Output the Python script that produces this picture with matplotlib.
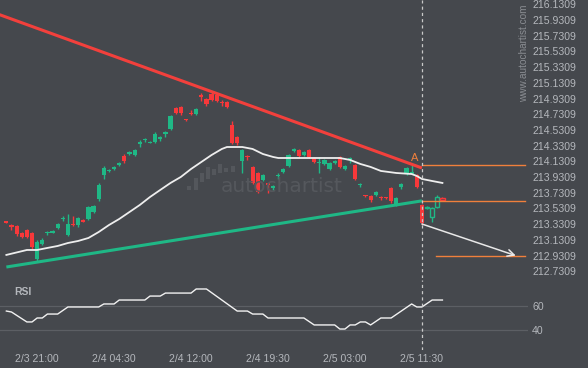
import matplotlib
matplotlib.use("Agg")
import matplotlib.pyplot as plt
from matplotlib.patches import Rectangle
import numpy as np

plt.rcParams['font.family'] = ['Liberation Sans', 'DejaVu Sans']

# ---------------- data ----------------
opens = [213.365, 213.320, 213.308, 213.218, 213.257, 213.218, 212.888, 213.078, 213.218, 213.218,
         213.282, 213.397, 213.193, 213.333, 213.320, 213.384, 213.397, 213.486, 213.652, 213.958,
         214.009, 214.034, 214.085, 214.200, 214.225, 214.212, 214.353, 214.404, 214.365, 214.378,
         214.416, 214.480, 214.544, 214.811, 214.824, 214.665, 214.748, 214.735, 214.977, 214.926,
         214.990, 214.977, 214.888, 214.888, 214.595, 214.442, 214.136, 214.200, 214.060, 213.983,
         213.894, 213.856, 213.792, 213.939, 213.996, 214.072, 214.263, 214.276, 214.212, 214.276,
         214.174, 214.104, 214.098, 214.034, 214.111, 214.187, 214.034, 214.149, 214.085, 213.830,
         213.697, 213.690, 213.703, 213.677, 213.671, 213.792, 213.588, 213.805, 213.970, 213.970,
         213.958, 213.575, 213.537, 213.422, 213.550, 213.665]
highs = [213.371, 213.333, 213.320, 213.231, 213.269, 213.231, 213.129, 213.155, 213.244, 213.257,
         213.346, 213.435, 213.461, 213.435, 213.422, 213.397, 213.563, 213.575, 213.856, 214.072,
         214.034, 214.072, 214.123, 214.225, 214.263, 214.289, 214.404, 214.429, 214.391, 214.506,
         214.455, 214.518, 214.722, 214.824, 214.837, 214.671, 214.786, 214.811, 215.002, 214.939,
         215.015, 214.990, 214.913, 214.900, 214.646, 214.455, 214.289, 214.212, 214.072, 213.996,
         213.970, 213.856, 213.830, 213.983, 214.047, 214.225, 214.302, 214.289, 214.263, 214.289,
         214.187, 214.187, 214.161, 214.123, 214.149, 214.200, 214.085, 214.187, 214.098, 213.856,
         213.703, 213.703, 213.754, 213.690, 213.677, 213.805, 213.677, 213.856, 214.060, 214.085,
         213.970, 213.588, 213.563, 213.550, 213.703, 213.677]
lows = [213.346, 213.257, 213.180, 213.155, 213.155, 213.015, 212.850, 213.066, 213.193, 213.218,
        213.269, 213.371, 213.180, 213.308, 213.295, 213.359, 213.384, 213.473, 213.626, 213.907,
        213.996, 214.021, 214.072, 214.111, 214.212, 214.200, 214.314, 214.378, 214.365, 214.365,
        214.391, 214.442, 214.531, 214.735, 214.722, 214.646, 214.722, 214.722, 214.900, 214.837,
        214.900, 214.888, 214.837, 214.811, 214.353, 214.340, 213.983, 214.149, 213.843, 213.728,
        213.881, 213.728, 213.767, 213.907, 213.983, 214.060, 214.251, 214.187, 214.200, 214.174,
        214.111, 213.983, 214.085, 214.021, 214.098, 214.047, 214.021, 214.111, 213.894, 213.805,
        213.677, 213.614, 213.690, 213.639, 213.652, 213.601, 213.563, 213.779, 213.958, 213.970,
        213.792, 213.333, 213.524, 213.359, 213.537, 213.626]
closes = [213.346, 213.295, 213.206, 213.167, 213.167, 213.040, 213.104, 213.129, 213.231, 213.244,
          213.333, 213.410, 213.333, 213.320, 213.410, 213.359, 213.550, 213.563, 213.830, 214.047,
          214.021, 214.060, 214.111, 214.136, 214.251, 214.276, 214.378, 214.416, 214.378, 214.480,
          214.442, 214.506, 214.709, 214.748, 214.748, 214.652, 214.735, 214.799, 214.951, 214.862,
          214.913, 214.900, 214.875, 214.824, 214.365, 214.365, 214.276, 214.187, 213.856, 213.741,
          213.958, 213.830, 213.818, 213.951, 214.034, 214.212, 214.289, 214.200, 214.251, 214.187,
          214.123, 214.117, 214.149, 214.111, 214.136, 214.060, 214.072, 214.174, 213.907, 213.843,
          213.684, 213.639, 213.741, 213.665, 213.658, 213.626, 213.665, 213.843, 214.047, 213.996,
          213.805, 213.346, 213.550, 213.537, 213.677, 213.639]

# moving average (white line), sampled at candle indices
ma_idx = [0, 4, 6, 8, 10, 12, 14, 16, 18, 20, 22, 24, 26, 28, 30, 32, 34, 36, 38, 40, 42, 43,
          46, 48, 50, 52, 53, 57, 61, 65, 67, 69, 71, 73, 76, 79, 80, 81, 83, 85]
ma_val = [212.939, 213.002, 213.002, 213.028, 213.053, 213.091, 213.117, 213.155, 213.231, 213.320,
          213.397, 213.486, 213.575, 213.677, 213.767, 213.856, 213.932, 214.034, 214.123, 214.212,
          214.289, 214.314, 214.314, 214.289, 214.225, 214.187, 214.174, 214.174, 214.174, 214.174,
          214.149, 214.098, 214.060, 214.009, 213.983, 213.970, 213.945, 213.907, 213.881, 213.856]

# RSI line
rsi_idx = [0, 1, 4, 5, 6, 7, 8, 10, 12, 18, 19, 21, 22, 27, 28, 30, 31, 36, 37, 39, 45, 47, 48,
           50, 51, 58, 60, 64, 65, 66, 67, 68, 69, 70, 71, 73, 75, 79, 80, 81, 83, 85]
rsi_val = [55.8, 55.0, 46.7, 46.7, 50.0, 50.0, 53.3, 53.3, 59.2, 59.2, 61.7, 61.7, 65.0, 65.0,
           68.3, 68.3, 70.8, 70.8, 74.2, 74.2, 55.8, 55.8, 53.3, 53.3, 50.0, 50.0, 44.2, 44.2,
           40.8, 40.8, 44.2, 44.2, 46.7, 46.7, 44.2, 50.0, 50.0, 61.7, 59.2, 59.2, 65.0, 65.0]

# pattern lines
resistance_idx = [-2, 81]
resistance_val = [216.016, 214.047]
support_idx = [0, 81]
support_val = [212.785, 213.628]
level_upper = 214.085
level_mid = 213.626
level_low = 212.927
forecast_idx = [81, 99.3]
forecast_val = [213.333, 212.930]
event_idx = 81
hollow_from = 82

tick_idx = [6, 21, 36, 51, 66, 81]
tick_labels = ["2/3 21:00", "2/4 04:30", "2/4 12:00", "2/4 19:30", "2/5 03:00", "2/5 11:30"]
price_ticks = [212.7309 + 0.2 * k for k in range(18)]
rsi_ticks = [40, 60]

# ---------------- style ----------------
BG = "#45484d"
TXT = "#b4b7bc"
GREEN = "#1fb886"
RED = "#f7383a"
ORANGE = "#f0803c"

W, H = 588, 368
fig = plt.figure(figsize=(W / 100, H / 100), dpi=100, facecolor=BG)

def fr(x0, y0, x1, y1):
    return [x0 / W, 1 - y1 / H, (x1 - x0) / W, (y1 - y0) / H]

ax = fig.add_axes(fr(0, 0, 528, 278))
axr = fig.add_axes(fr(0, 280, 528, 350), sharex=ax)
for a in (ax, axr):
    a.set_facecolor(BG)
    for s in a.spines.values():
        s.set_visible(False)

XMIN, XMAX = -1.24, 101.68
ax.set_xlim(XMIN, XMAX)
ax.set_ylim(212.645, 216.187)
axr.set_ylim(23.3, 81.7)

# candles
n = len(opens)
bw = 0.82
for i in range(n):
    o, h, l, c = opens[i], highs[i], lows[i], closes[i]
    col = GREEN if c >= o else RED
    lo, hi = min(o, c), max(o, c)
    hgt = max(hi - lo, 0.011)
    if i >= hollow_from:
        ax.vlines(i, l, lo, color=col, lw=1, zorder=3)
        ax.vlines(i, hi, h, color=col, lw=1, zorder=3)
        ax.add_patch(Rectangle((i - bw / 2, lo), bw, hgt, facecolor="none",
                               edgecolor=col, lw=1, zorder=3))
    else:
        ax.vlines(i, l, h, color=col, lw=1, zorder=3)
        ax.add_patch(Rectangle((i - bw / 2, lo), bw, hgt, facecolor=col,
                               edgecolor="none", lw=0, zorder=3))

# watermark
fig.text(282 / W, 1 - 186 / H, "autochartist", color="#55585d", fontsize=14.5,
         family="DejaVu Sans", ha="center", va="center", zorder=0)
bars_x = [187, 194, 200, 206, 212, 218, 224, 231]
bars_t = [186, 178, 173, 167, 169, 164, 168, 166]
bars_b = [190, 190, 182, 179, 175, 173, 172, 172]
for bx, bt, bb in zip(bars_x, bars_t, bars_b):
    fig.patches.append(Rectangle((bx / W, 1 - bb / H), 4 / W, (bb - bt) / H,
                                 transform=fig.transFigure, facecolor="#54575c",
                                 edgecolor="none", zorder=0))

# moving average
ax.plot(ma_idx, ma_val, color="#eeeeee", lw=1.3, zorder=4)

# trend lines
ax.plot(resistance_idx, resistance_val, color="#f2403c", lw=2.2, zorder=5,
        solid_capstyle="butt")
ax.plot(support_idx, support_val, color="#1fb886", lw=2.2, zorder=5,
        solid_capstyle="butt")

# levels
ax.plot([event_idx, 101.1], [level_upper, level_upper], color=ORANGE, lw=1, zorder=5)
ax.plot([event_idx, 101.1], [level_mid, level_mid], color=ORANGE, lw=1, zorder=5)
ax.plot([83.7, 101.1], [level_low, level_low], color=ORANGE, lw=1, zorder=5)
ax.text(event_idx - 1.4, level_upper + 0.02, "A", color=ORANGE, fontsize=8,
        ha="center", va="bottom", zorder=6)

# forecast arrow
ax.annotate("", xy=(forecast_idx[1], forecast_val[1]), xytext=(forecast_idx[0], forecast_val[0]),
            arrowprops=dict(arrowstyle="->", color="#e8e8e8", lw=1.1,
                            mutation_scale=12, shrinkA=0, shrinkB=0), zorder=6)

# event dashed line
for a in (ax, axr):
    a.axvline(event_idx, color="#c9c9c9", lw=0.9, ls=(0, (2.5, 2.5)), zorder=6)

# RSI
for v in rsi_ticks:
    axr.axhline(v, color="#5c5f64", lw=0.9, zorder=1)
axr.plot(rsi_idx, rsi_val, color="#f2f2f2", lw=1.0, zorder=3)
axr.text(14 / 528, 0.83, "RSI", transform=axr.transAxes, color=TXT, fontsize=7.5,
         fontweight="bold", ha="left", va="center")

# axes ticks
ax.yaxis.tick_right()
ax.set_yticks(price_ticks)
ax.set_yticklabels([f"{p:.4f}" for p in price_ticks])
axr.yaxis.tick_right()
axr.set_yticks(rsi_ticks)
axr.set_yticklabels([str(v) for v in rsi_ticks])
for a in (ax, axr):
    a.tick_params(axis="y", length=0, pad=3, labelsize=7.6, labelcolor=TXT)
ax.tick_params(axis="x", length=0, labelbottom=False)
axr.set_xticks(tick_idx)
axr.set_xticklabels(tick_labels)
axr.tick_params(axis="x", length=0, pad=3, labelsize=7.6, labelcolor=TXT)

# site text
fig.text(524 / W, 1 - 53 / H, "www.autochartist.com", rotation=90, color="#8a8d92",
         fontsize=7.2, ha="center", va="center")

fig.savefig("out.png", dpi=100, facecolor=BG)
